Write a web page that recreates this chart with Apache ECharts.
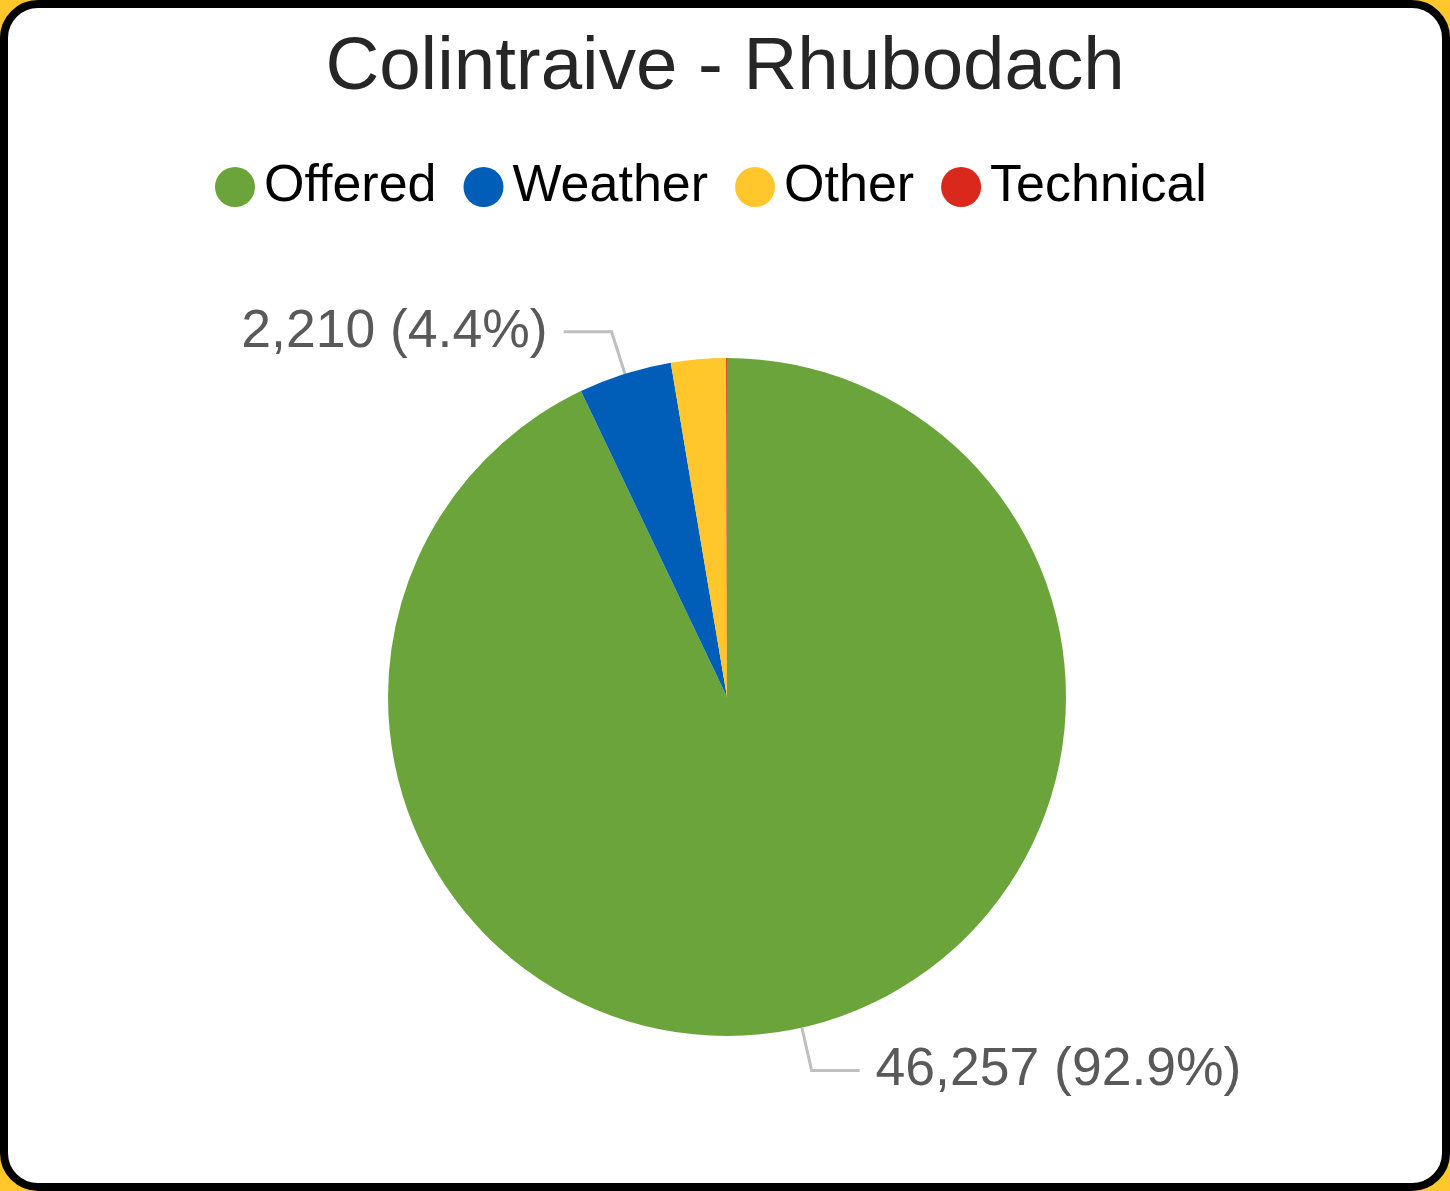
<!DOCTYPE html>
<html>
<head>
<meta charset="utf-8">
<script src="https://cdn.jsdelivr.net/npm/echarts@6/dist/echarts.min.js"></script>
<style>
html,body{margin:0;padding:0;width:1450px;height:1191px;overflow:hidden;background:#FFC72C;}
#frame{position:absolute;left:0;top:0;width:1450px;height:1191px;box-sizing:border-box;border:8px solid #000;border-radius:38px;background:#fff;}
#chart{position:absolute;left:0;top:0;width:1450px;height:1191px;}
</style>
</head>
<body>
<div id="frame"></div>
<div id="chart"></div>
<script>
const titleText = 'Colintraive - Rhubodach';
const categories = ['Offered', 'Weather', 'Other', 'Technical'];
const values = [46257, 2210, 1300, 20];
const colors = ['#6AA43A', '#005EB8', '#FFC72C', '#DA291C'];
const showLabel = [true, true, false, false];

const chart = echarts.init(document.getElementById('chart'), null, {renderer: 'canvas'});
const data = categories.map((name, i) => ({
  name: name,
  value: values[i],
  itemStyle: {color: colors[i]},
  label: {show: showLabel[i]},
  labelLine: {show: showLabel[i]}
}));

chart.setOption({
  animation: false,
  backgroundColor: 'transparent',
  title: {
    text: titleText,
    left: 'center',
    top: 26,
    textStyle: {
      fontFamily: 'Liberation Sans, Arial, sans-serif',
      fontSize: 74.5,
      fontWeight: 'normal',
      color: '#262626',
      lineHeight: 74
    }
  },
  legend: {
    data: categories,
    left: 210,
    top: 156,
    icon: 'circle',
    itemWidth: 40,
    itemHeight: 40,
    itemGap: 27,
    textStyle: {
      fontFamily: 'Liberation Sans, Arial, sans-serif',
      fontSize: 52,
      color: '#000',
      padding: [0, 0, 0, 4]
    }
  },
  series: [{
    type: 'pie',
    center: [727, 697],
    radius: 339,
    startAngle: 90,
    clockwise: true,
    percentPrecision: 1,
    avoidLabelOverlap: false,
    data: data,
    label: {
      fontFamily: 'Liberation Sans, Arial, sans-serif',
      fontSize: 53.5,
      color: '#595959',
      distanceToLabelLine: 16,
      formatter: p => p.value.toLocaleString('en-US') + ' (' + p.percent.toFixed(1) + '%)'
    },
    labelLine: {
      length: 44,
      length2: 48,
      lineStyle: {color: '#BFBFBF', width: 3}
    },
    emphasis: {disabled: true}
  }]
});
</script>
</body>
</html>
